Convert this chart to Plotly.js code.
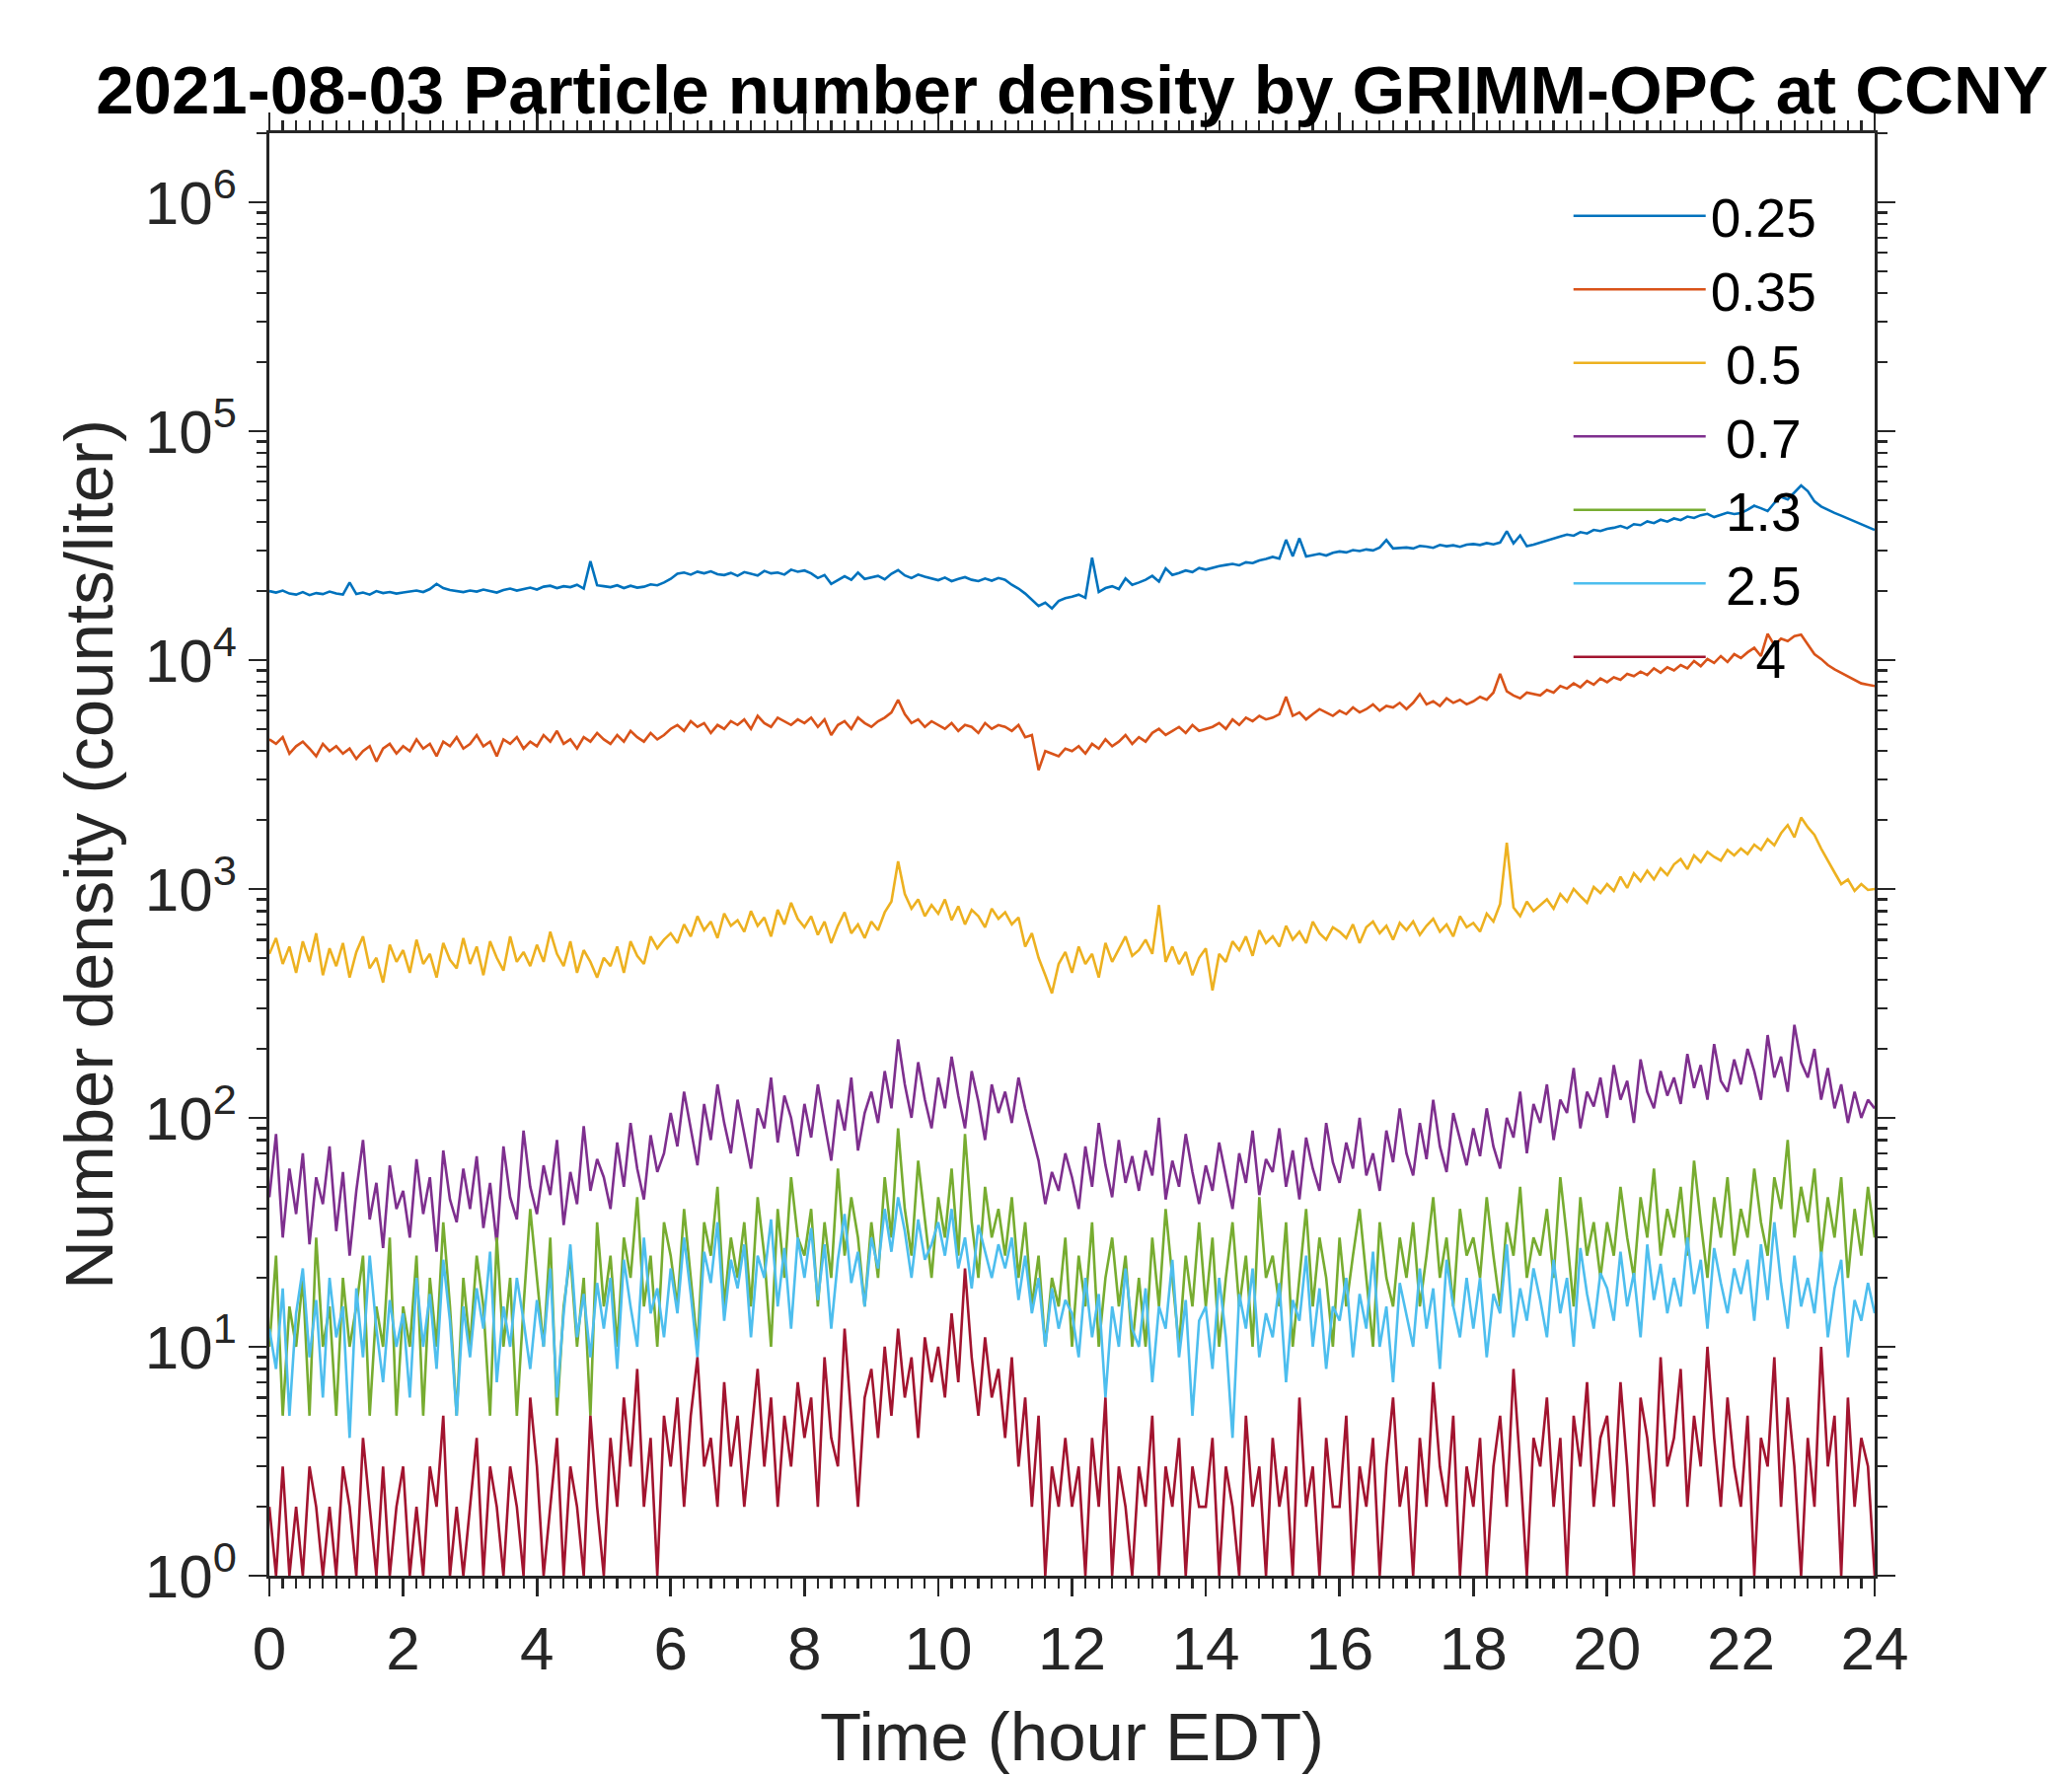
<!DOCTYPE html>
<html><head><meta charset="utf-8">
<script src="https://cdn.plot.ly/plotly-3.0.1.min.js"></script>
<style>html,body{margin:0;padding:0;background:#fff}</style>
</head><body>
<div id="chart" style="width:2100px;height:1800px"></div>
<script>
const hours = [0,0.1,0.2,0.3,0.4,0.5,0.6,0.7,0.8,0.9,1,1.1,1.2,1.3,1.4,1.5,1.6,1.7,1.8,1.9,2,2.1,2.2,2.3,2.4,2.5,2.6,2.7,2.8,2.9,3,3.1,3.2,3.3,3.4,3.5,3.6,3.7,3.8,3.9,4,4.1,4.2,4.3,4.4,4.5,4.6,4.7,4.8,4.9,5,5.1,5.2,5.3,5.4,5.5,5.6,5.7,5.8,5.9,6,6.1,6.2,6.3,6.4,6.5,6.6,6.7,6.8,6.9,7,7.1,7.2,7.3,7.4,7.5,7.6,7.7,7.8,7.9,8,8.1,8.2,8.3,8.4,8.5,8.6,8.7,8.8,8.9,9,9.1,9.2,9.3,9.4,9.5,9.6,9.7,9.8,9.9,10,10.1,10.2,10.3,10.4,10.5,10.6,10.7,10.8,10.9,11,11.1,11.2,11.3,11.4,11.5,11.6,11.7,11.8,11.9,12,12.1,12.2,12.3,12.4,12.5,12.6,12.7,12.8,12.9,13,13.1,13.2,13.3,13.4,13.5,13.6,13.7,13.8,13.9,14,14.1,14.2,14.3,14.4,14.5,14.6,14.7,14.8,14.9,15,15.1,15.2,15.3,15.4,15.5,15.6,15.7,15.8,15.9,16,16.1,16.2,16.3,16.4,16.5,16.6,16.7,16.8,16.9,17,17.1,17.2,17.3,17.4,17.5,17.6,17.7,17.8,17.9,18,18.1,18.2,18.3,18.4,18.5,18.6,18.7,18.8,18.9,19,19.1,19.2,19.3,19.4,19.5,19.6,19.7,19.8,19.9,20,20.1,20.2,20.3,20.4,20.5,20.6,20.7,20.8,20.9,21,21.1,21.2,21.3,21.4,21.5,21.6,21.7,21.8,21.9,22,22.1,22.2,22.3,22.4,22.5,22.6,22.7,22.8,22.9,23,23.1,23.2,23.3,23.4,23.5,23.6,23.7,23.8,23.9,24];

const sizeLabels = ['0.25','0.35','\u00a00.5','\u00a00.7','\u00a01.3','\u00a02.5','\u00a0\u00a0\u00a04'];

const d025 = [20000,19700,20100,19500,19300,19800,19200,19600,19400,19900,
19500,19300,21800,19400,19700,19300,20000,19600,19800,19500,
19700,19900,20100,19800,20400,21500,20600,20200,20000,19800,
20100,19900,20300,20000,19700,20200,20500,20100,20400,20700,
20300,20900,21100,20600,21000,20800,21300,20500,27000,21200,
21000,20800,21200,20600,21100,20700,20900,21400,21200,21800,
22600,23800,24100,23600,24300,23900,24400,23700,23500,24000,
23300,24200,23800,23400,24500,23900,24100,23600,24800,24300,
24600,23900,22800,23500,21500,22300,23200,22400,24100,22600,
22900,23300,22500,23800,24700,23400,22800,23600,23100,22700,
22300,22900,22100,22600,23000,22400,22100,22700,22200,22800,
22400,21300,20500,19500,18300,17200,17800,16800,18100,18600,
18900,19300,18700,28000,19800,20600,21000,20400,22700,21300,
21800,22400,23300,22000,25100,23500,24000,24600,24200,25200,
24800,25300,25700,26000,26300,25900,26700,26500,27200,27600,
28200,27700,33500,28400,34000,28300,28800,29100,28600,29400,
29800,29500,30200,29900,30400,30100,31000,33400,30700,30900,
31000,30700,31500,31300,30900,31800,31400,31700,31200,31900,
32100,31800,32400,32000,32600,36500,32300,35000,31400,31900,
32600,33300,34100,34600,35300,34900,36200,35700,37000,36600,
37400,37800,38500,37600,39200,38800,40300,39600,41000,40200,
41500,40800,42300,41700,42900,43500,42100,43200,44000,43400,
43800,45300,47200,46000,44700,48500,51600,50300,54200,57800,
54600,49300,46800,45200,43900,42700,41500,40400,39300,38200,
37000];

const d035 = [4500,4300,4600,3900,4200,4400,4100,3800,4300,4000,
4200,3900,4100,3700,4000,4200,3600,4100,4300,3900,
4200,4000,4500,4100,4300,3800,4400,4200,4600,4100,
4300,4700,4200,4400,3800,4500,4300,4600,4100,4400,
4200,4700,4400,4900,4300,4500,4100,4600,4400,4800,
4500,4300,4700,4400,4900,4600,4400,4800,4500,4700,
5000,5200,4900,5400,5100,5300,4800,5200,5000,5400,
5200,5500,5000,5700,5300,5100,5600,5400,5200,5500,
5300,5600,5100,5500,4700,5200,5400,5000,5600,5300,
5100,5400,5600,5900,6700,5800,5300,5500,5100,5400,
5200,5000,5300,4900,5200,5100,4800,5300,5000,5200,
5100,4900,5200,4600,4700,3300,4000,3900,3800,4100,
4000,4200,3900,4300,4100,4500,4200,4400,4700,4300,
4600,4400,4800,5000,4700,4900,5100,4800,5200,4900,
5000,5100,5300,5000,5500,5200,5600,5400,5700,5500,
5600,5800,6900,5700,5900,5500,5800,6100,5900,5700,
6000,5800,6200,5900,6100,6400,6000,6300,6200,6500,
6100,6500,7100,6400,6600,6300,6800,6500,6700,6400,
6600,6900,6700,7200,8700,7300,7000,6800,7200,7100,
7000,7400,7200,7700,7500,7900,7600,8100,7800,8300,
8000,8400,8200,8700,8500,8900,8600,9200,8800,9300,
9000,9500,9200,9900,9400,10100,9700,10400,9800,10600,
10200,10800,11300,10400,13000,11600,12400,12100,12700,12900,
11700,10600,10100,9500,9100,8800,8500,8200,7900,7800,
7700];

const d05 = [520,610,470,560,430,590,480,640,420,550,
460,580,410,530,620,450,500,390,570,480,
540,430,600,470,520,410,580,490,450,610,
470,560,420,590,500,440,620,480,530,460,
570,480,650,520,460,590,430,540,480,410,
500,460,560,430,590,510,470,620,550,600,
640,580,700,620,760,660,720,610,780,690,
730,650,800,690,750,620,810,700,870,740,
680,760,630,720,580,690,790,640,700,610,
720,660,790,880,1320,950,820,900,760,850,
780,900,730,840,700,810,760,680,820,740,
790,700,750,560,640,500,420,350,470,530,
430,560,470,520,410,580,480,550,620,510,
540,600,520,850,480,560,470,530,420,500,
550,360,520,480,590,540,620,510,660,580,
620,560,690,600,650,580,720,640,600,680,
650,610,700,580,680,720,640,690,600,710,
660,720,630,690,740,650,700,620,760,680,
710,650,780,720,860,1590,830,760,880,800,
850,900,820,950,880,1000,930,870,1020,960,
1050,980,1130,1010,1170,1080,1200,1100,1230,1150,
1280,1350,1220,1400,1310,1450,1380,1330,1480,1400,
1500,1420,1560,1480,1650,1550,1750,1900,1680,2050,
1860,1720,1500,1320,1180,1050,1100,980,1050,990,
1000];

const d07 = [45,85,30,60,38,70,28,55,42,75,
32,58,25,48,80,36,52,27,62,40,
48,30,66,38,55,26,72,44,35,60,
40,68,33,52,28,75,45,36,88,50,
38,62,46,80,34,58,42,92,48,66,
55,40,78,50,95,60,44,84,58,70,
105,75,130,88,62,115,80,140,95,70,
120,85,60,110,90,150,78,125,100,68,
115,82,140,95,65,120,88,150,72,105,
130,95,160,110,220,140,100,175,120,90,
150,110,185,125,90,160,118,80,140,105,
130,95,150,110,85,65,42,58,48,70,
55,40,75,50,95,62,45,80,52,68,
48,72,56,100,44,65,50,85,58,42,
62,48,78,55,40,70,52,88,46,66,
58,90,50,72,44,82,60,48,95,64,
52,78,60,100,56,70,48,88,64,110,
70,56,95,66,120,75,58,105,80,62,
90,68,110,75,60,100,82,130,70,115,
95,140,80,120,105,165,90,130,112,150,
100,170,120,145,95,180,130,110,160,125,
150,115,190,135,170,120,210,145,130,180,
140,200,160,120,230,150,185,130,255,175,
150,200,120,165,110,140,95,130,100,120,
110];

const d13 = [10,25,5,15,10,20,5,30,10,15,
5,20,10,15,25,5,15,10,30,5,
15,10,25,5,20,10,35,15,5,20,
10,25,15,5,30,10,20,5,15,40,
20,10,30,5,15,25,10,20,5,35,
15,25,10,30,20,45,15,25,10,35,
25,15,40,20,10,35,25,50,15,30,
20,35,15,45,25,10,40,20,55,30,
25,40,15,35,20,60,25,45,30,15,
35,20,55,30,90,40,25,65,35,20,
45,30,60,25,85,35,20,50,30,40,
25,45,20,35,15,25,10,20,15,30,
10,25,15,35,10,20,30,15,25,10,
20,10,30,15,40,20,10,25,15,35,
15,30,10,20,35,15,25,10,45,20,
25,15,35,10,20,40,15,30,20,10,
30,15,25,40,20,10,35,20,15,30,
20,35,15,25,45,20,30,15,40,25,
30,20,45,25,15,35,25,50,20,30,
25,40,20,55,30,15,45,25,35,20,
35,25,50,30,20,45,30,60,25,40,
30,50,25,65,35,20,45,30,55,25,
40,30,60,35,25,55,40,80,30,50,
35,60,25,45,30,55,20,40,25,50,
30];

const d25 = [12,8,18,5,14,22,9,16,6,20,
11,15,4,18,9,25,12,7,16,10,
14,6,20,10,17,8,24,13,5,15,
9,18,12,26,7,15,10,20,13,8,
16,10,22,6,14,28,11,17,9,19,
12,20,8,24,15,10,30,14,18,11,
22,14,30,17,9,26,19,35,13,24,
18,28,11,25,20,36,15,27,12,30,
20,33,16,28,12,24,38,19,26,15,
30,22,40,26,45,32,20,36,24,28,
35,25,40,22,30,18,34,26,20,28,
22,30,16,25,14,20,10,18,12,16,
14,9,20,11,17,6,15,10,22,12,
10,18,7,15,12,24,9,16,5,13,
15,8,20,11,4,17,12,22,9,14,
11,19,7,16,13,25,10,18,8,15,
13,20,9,17,12,26,10,15,7,19,
14,10,22,12,18,8,24,15,11,20,
12,20,9,17,14,28,11,18,13,22,
16,11,24,14,20,10,27,17,12,21,
18,13,26,15,21,11,28,16,23,14,
20,15,30,17,24,12,27,19,14,22,
17,24,13,28,16,35,19,12,25,15,
20,14,26,11,18,24,9,16,13,19,
14];

const d4 = [2,1,3,1,2,1,3,2,1,2,
1,3,2,1,4,2,1,3,1,2,
3,1,2,1,3,2,5,1,2,1,
2,4,1,3,2,1,3,2,1,6,
3,1,2,4,1,3,2,1,5,2,
1,4,2,6,3,8,2,4,1,5,
3,6,2,5,9,3,4,2,7,3,
5,2,4,8,3,6,2,5,3,7,
4,6,2,9,4,3,12,5,2,6,
8,4,10,5,12,6,9,4,11,7,
10,6,14,7,22,9,5,11,6,8,
4,9,3,6,2,5,1,3,2,4,
2,3,1,4,2,6,1,3,2,1,
3,2,5,1,3,2,4,1,3,2,
2,4,1,3,2,1,5,2,3,1,
4,2,3,1,6,2,3,1,4,2,
2,5,1,3,2,4,1,3,6,2,
3,1,4,2,7,3,2,5,1,3,
2,4,1,3,5,2,8,3,1,4,
3,6,2,4,1,5,3,7,2,4,
5,2,7,3,1,6,4,2,9,3,
4,8,2,5,3,10,4,2,6,3,
2,5,1,4,3,9,2,6,3,1,
4,2,10,3,5,1,6,2,4,3,
1];

const yExponents = [0,1,2,3,4,5,6];

const seriesData = [d025, d035, d05, d07, d13, d25, d4];
const seriesColors = ['#0072BD','#D95319','#EDB120','#7E2F8E','#77AC30','#4DBEEE','#A2142F'];

const traces = seriesData.map((ys, i) => ({
  type: 'scatter', mode: 'lines',
  x: hours, y: ys,
  name: sizeLabels[i],
  line: {color: seriesColors[i], width: 2.6},
  hoverinfo: 'skip'
}));

const axisColor = '#262626';
const FONT = '"Liberation Sans", Arial, Helvetica, sans-serif';

const layout = {
  width: 2100, height: 1800,
  paper_bgcolor: '#ffffff', plot_bgcolor: '#ffffff',
  margin: {l: 273, r: 200, t: 135, b: 203, pad: 0},
  font: {family: FONT, color: axisColor},
  showlegend: true,
  title: {
    text: '<b>2021-08-03 Particle number density by GRIMM-OPC at CCNY</b>',
    font: {family: FONT, size: 69, color: '#000000'},
    x: 0.5, xref: 'paper', xanchor: 'center',
    y: 1 - 91/1800, yref: 'container', yanchor: 'middle'
  },
  xaxis: {
    range: [0, 24], dtick: 2, tick0: 0,
    showgrid: false, zeroline: false,
    showline: true, linecolor: axisColor, linewidth: 2.7, mirror: 'ticks',
    ticks: 'outside', ticklen: 18, tickwidth: 2.7, tickcolor: axisColor,
    minor: {dtick: 0.2, ticks: 'outside', ticklen: 10, tickwidth: 2.2, tickcolor: axisColor, showgrid: false},
    tickfont: {family: FONT, size: 62, color: axisColor},
    title: {text: 'Time (hour EDT)', font: {family: FONT, size: 69, color: axisColor}, standoff: 32}
  },
  yaxis: {
    type: 'log', range: [0, Math.log10(2e6)],
    tickmode: 'array',
    tickvals: yExponents.map(e => Math.pow(10, e)),
    ticktext: yExponents.map(e => '10<sup>' + e + '</sup>'),
    showgrid: false, zeroline: false,
    showline: true, linecolor: axisColor, linewidth: 2.7, mirror: 'ticks',
    ticks: 'outside', ticklen: 18, tickwidth: 2.7, tickcolor: axisColor,
    minor: {dtick: 'D1', ticks: 'outside', ticklen: 10, tickwidth: 2.2, tickcolor: axisColor, showgrid: false},
    tickfont: {family: FONT, size: 62, color: axisColor},
    title: {text: 'Number density (counts/liter)', font: {family: FONT, size: 69, color: axisColor}, standoff: 10}
  },
  legend: {
    x: 0.8093, xanchor: 'left', y: 0.9716, yanchor: 'top',
    bgcolor: 'rgba(0,0,0,0)', borderwidth: 0,
    font: {family: FONT, size: 55, color: '#000000'},
    itemwidth: 134, tracegroupgap: 0
  }
};

Plotly.newPlot('chart', traces, layout, {displayModeBar: false, staticPlot: true});
</script>
</body></html>
